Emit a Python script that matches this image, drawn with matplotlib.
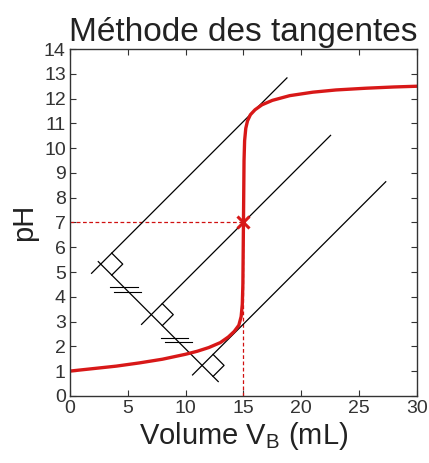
import numpy as np
import matplotlib
matplotlib.use("Agg")
import matplotlib.pyplot as plt

plt.rcParams['font.family'] = ['Liberation Sans', 'DejaVu Sans']
plt.rcParams['mathtext.fontset'] = 'custom'
plt.rcParams['mathtext.rm'] = 'Liberation Sans'

# courbe de titrage
vol = [0, 2, 4, 6, 8, 10, 11, 12, 13, 13.7, 14.2, 14.6, 14.8, 14.9, 14.95,
       15.0, 15.05, 15.1, 15.2, 15.35, 15.6, 16.0, 16.6, 17.5, 19, 21, 23, 25.6, 28, 30]
ph = [1.0, 1.1, 1.2, 1.33, 1.48, 1.68, 1.8, 1.95, 2.15, 2.38, 2.6, 2.85, 3.2, 3.7, 4.5,
      7.0, 9.5, 10.3, 10.8, 11.1, 11.35, 11.55, 11.75, 11.93, 12.12, 12.26, 12.35, 12.42, 12.47, 12.5]

# tangentes paralleles
tan_slope = 0.467
tan_ph15 = [11.08, 7.0, 2.9]     # pH de chaque tangente en V = 15 mL
tan_xstart = [1.87, 6.19, 10.6]
tan_xend = [18.76, 22.53, 27.3]

# perpendiculaire commune
perp_x = [2.45, 12.82]
perp_y0 = 5.42

v_eq = 15.0
ph_eq = 7.0

fig = plt.figure(figsize=(4.29, 4.63), dpi=100)
ax = fig.add_axes([0.163, 0.145, 0.809, 0.749])

ax.plot([0, v_eq], [ph_eq, ph_eq], color='#d01010', lw=0.9, ls=(0, (3, 2)))
ax.plot([v_eq, v_eq], [0, ph_eq], color='#d01010', lw=0.9, ls=(0, (3, 2)))

for p15, xa, xb in zip(tan_ph15, tan_xstart, tan_xend):
    xs = np.array([xa, xb])
    ax.plot(xs, p15 + tan_slope * (xs - v_eq), color='k', lw=0.9)

px = np.array(perp_x)
ax.plot(px, perp_y0 - tan_slope * (px - perp_x[0]), color='k', lw=0.9)

# intersections + petits carres (angles droits)
inter = []
for p15 in tan_ph15:
    # p15 + a(x-15) = y0 - a(x-x0)
    xi = (perp_y0 + tan_slope * perp_x[0] - p15 + tan_slope * v_eq) / (2 * tan_slope)
    yi = p15 + tan_slope * (xi - v_eq)
    inter.append((xi, yi))
    s = 0.95
    sq_x = [xi, xi + s, xi + 2 * s, xi + s]
    sq_y = [yi, yi + s * tan_slope, yi, yi - s * tan_slope]
    ax.plot(sq_x[1:] , sq_y[1:], color='k', lw=0.9)

# marques d'egalite
for (x1, y1), (x2, y2) in zip(inter[:-1], inter[1:]):
    xm, ym = (x1 + x2) / 2, (y1 + y2) / 2
    ax.plot([xm - 1.35, xm + 1.0], [ym + 0.09, ym + 0.09], color='k', lw=0.8)
    ax.plot([xm - 1.05, xm + 1.3], [ym - 0.09, ym - 0.09], color='k', lw=0.8)

ax.plot(vol, ph, color='#d81818', lw=2.4, solid_capstyle='round')
ax.plot([v_eq], [ph_eq], marker='x', color='#d81818', ms=9, mew=2.2)

ax.set_xlim(0, 30)
ax.set_ylim(0, 14)
ax.set_xticks(range(0, 31, 5))
ax.set_yticks(range(0, 15))
ax.tick_params(direction='in', top=True, right=True, length=4, labelsize=14, pad=3, colors='#333333', labelcolor='#333333')
for sp in ax.spines.values():
    sp.set_linewidth(1.0)
    sp.set_color('#333333')

ax.set_title('Méthode des tangentes', fontsize=24, color='#222222', pad=6)
ax.set_xlabel('Volume V$_{\\rm B}$ (mL)', fontsize=21, color='#222222', labelpad=2)
ax.set_ylabel('pH', fontsize=21, color='#222222', labelpad=4)

fig.savefig('out.png', dpi=100)
